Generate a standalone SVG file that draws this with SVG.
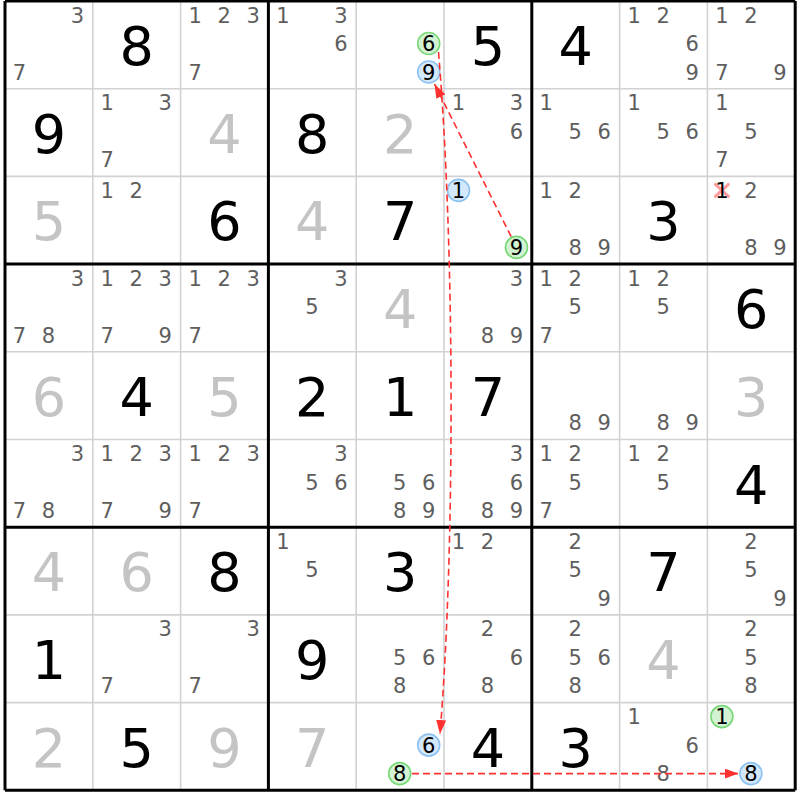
<svg xmlns="http://www.w3.org/2000/svg" width="800" height="800" viewBox="0 0 800 800">
<style>
text{font-family:"DejaVu Sans","Liberation Sans",sans-serif;text-anchor:middle}
.c{font-size:21px;fill:#5e5e5e}
.b{font-size:54px;fill:#000}
.s{font-size:54px;fill:#c4c4c4}
.k{font-size:21px;fill:#000}
.gc{fill:#d2f2d2;stroke:#78d878;stroke-width:1.6}
.bc{fill:#d4e8fb;stroke:#8cc2f2;stroke-width:1.6}
.thin{stroke:#d2d2d2;stroke-width:1.6}
.thick{stroke:#000;stroke-width:3}
.lnk{fill:none;stroke:#ff3030;stroke-width:1.6;stroke-dasharray:7,4}
</style>
<defs>
<marker id="ah" viewBox="0 0 14 10" refX="14" refY="5" markerWidth="14" markerHeight="10" markerUnits="userSpaceOnUse" orient="auto">
<path d="M0,0 L14,5 L0,10 z" fill="#ff3030"/>
</marker>
</defs>
<rect x="0" y="0" width="800" height="800" fill="#fff"/>
<g id="grid">
<path class="thin" d="M92.8,1V790.3M180.6,1V790.3M356.2,1V790.3M444,1V790.3M619.6,1V790.3M707.4,1V790.3M5,88.7H795.2M5,176.4H795.2M5,351.8H795.2M5,439.5H795.2M5,614.9H795.2M5,702.6H795.2"/>
<path class="thick" d="M5,1V790.3M268.4,1V790.3M531.8,1V790.3M795.2,1V790.3M5,1H795.2M5,264.1H795.2M5,527.2H795.2M5,790.3H795.2"/>
</g>
<!-- Row 0 -->
<g id="r0c0" transform="translate(5,1)"><text class="c" x="72.5" y="21.6">3</text><text class="c" x="14.5" y="78.6">7</text></g>
<g id="r0c1" transform="translate(92.8,1)"><text class="b" x="43.9" y="64">8</text></g>
<g id="r0c2" transform="translate(180.6,1)"><text class="c" x="14.5" y="21.6">1</text><text class="c" x="43.5" y="21.6">2</text><text class="c" x="72.5" y="21.6">3</text><text class="c" x="14.5" y="78.6">7</text></g>
<g id="r0c3" transform="translate(268.4,1)"><text class="c" x="14.5" y="21.6">1</text><text class="c" x="72.5" y="21.6">3</text><text class="c" x="72.5" y="50.1">6</text></g>
<g id="r0c4" transform="translate(356.2,1)"><circle class="gc" cx="72.5" cy="42.5" r="11"/><text class="k" x="72.5" y="50.1">6</text><circle class="bc" cx="72.5" cy="71" r="11"/><text class="k" x="72.5" y="78.6">9</text></g>
<g id="r0c5" transform="translate(444,1)"><text class="b" x="43.9" y="64">5</text></g>
<g id="r0c6" transform="translate(531.8,1)"><text class="b" x="43.9" y="64">4</text></g>
<g id="r0c7" transform="translate(619.6,1)"><text class="c" x="14.5" y="21.6">1</text><text class="c" x="43.5" y="21.6">2</text><text class="c" x="72.5" y="50.1">6</text><text class="c" x="72.5" y="78.6">9</text></g>
<g id="r0c8" transform="translate(707.4,1)"><text class="c" x="14.5" y="21.6">1</text><text class="c" x="43.5" y="21.6">2</text><text class="c" x="14.5" y="78.6">7</text><text class="c" x="72.5" y="78.6">9</text></g>
<!-- Row 1 -->
<g id="r1c0" transform="translate(5,88.7)"><text class="b" x="43.9" y="64">9</text></g>
<g id="r1c1" transform="translate(92.8,88.7)"><text class="c" x="14.5" y="21.6">1</text><text class="c" x="72.5" y="21.6">3</text><text class="c" x="14.5" y="78.6">7</text></g>
<g id="r1c2" transform="translate(180.6,88.7)"><text class="s" x="43.9" y="64">4</text></g>
<g id="r1c3" transform="translate(268.4,88.7)"><text class="b" x="43.9" y="64">8</text></g>
<g id="r1c4" transform="translate(356.2,88.7)"><text class="s" x="43.9" y="64">2</text></g>
<g id="r1c5" transform="translate(444,88.7)"><text class="c" x="14.5" y="21.6">1</text><text class="c" x="72.5" y="21.6">3</text><text class="c" x="72.5" y="50.1">6</text></g>
<g id="r1c6" transform="translate(531.8,88.7)"><text class="c" x="14.5" y="21.6">1</text><text class="c" x="43.5" y="50.1">5</text><text class="c" x="72.5" y="50.1">6</text></g>
<g id="r1c7" transform="translate(619.6,88.7)"><text class="c" x="14.5" y="21.6">1</text><text class="c" x="43.5" y="50.1">5</text><text class="c" x="72.5" y="50.1">6</text></g>
<g id="r1c8" transform="translate(707.4,88.7)"><text class="c" x="14.5" y="21.6">1</text><text class="c" x="43.5" y="50.1">5</text><text class="c" x="14.5" y="78.6">7</text></g>
<!-- Row 2 -->
<g id="r2c0" transform="translate(5,176.4)"><text class="s" x="43.9" y="64">5</text></g>
<g id="r2c1" transform="translate(92.8,176.4)"><text class="c" x="14.5" y="21.6">1</text><text class="c" x="43.5" y="21.6">2</text></g>
<g id="r2c2" transform="translate(180.6,176.4)"><text class="b" x="43.9" y="64">6</text></g>
<g id="r2c3" transform="translate(268.4,176.4)"><text class="s" x="43.9" y="64">4</text></g>
<g id="r2c4" transform="translate(356.2,176.4)"><text class="b" x="43.9" y="64">7</text></g>
<g id="r2c5" transform="translate(444,176.4)"><circle class="bc" cx="14.5" cy="14" r="11"/><text class="k" x="14.5" y="21.6">1</text><circle class="gc" cx="72.5" cy="71" r="11"/><text class="k" x="72.5" y="78.6">9</text></g>
<g id="r2c6" transform="translate(531.8,176.4)"><text class="c" x="14.5" y="21.6">1</text><text class="c" x="43.5" y="21.6">2</text><text class="c" x="43.5" y="78.6">8</text><text class="c" x="72.5" y="78.6">9</text></g>
<g id="r2c7" transform="translate(619.6,176.4)"><text class="b" x="43.9" y="64">3</text></g>
<g id="r2c8" transform="translate(707.4,176.4)"><path d="M8,8L21,20M21,8L8,20" stroke="#ff8c8c" stroke-width="3" stroke-linecap="round" opacity="0.85"/><text class="k" x="14.5" y="21.6">1</text><text class="c" x="43.5" y="21.6">2</text><text class="c" x="43.5" y="78.6">8</text><text class="c" x="72.5" y="78.6">9</text></g>
<!-- Row 3 -->
<g id="r3c0" transform="translate(5,264.1)"><text class="c" x="72.5" y="21.6">3</text><text class="c" x="14.5" y="78.6">7</text><text class="c" x="43.5" y="78.6">8</text></g>
<g id="r3c1" transform="translate(92.8,264.1)"><text class="c" x="14.5" y="21.6">1</text><text class="c" x="43.5" y="21.6">2</text><text class="c" x="72.5" y="21.6">3</text><text class="c" x="14.5" y="78.6">7</text><text class="c" x="72.5" y="78.6">9</text></g>
<g id="r3c2" transform="translate(180.6,264.1)"><text class="c" x="14.5" y="21.6">1</text><text class="c" x="43.5" y="21.6">2</text><text class="c" x="72.5" y="21.6">3</text><text class="c" x="14.5" y="78.6">7</text></g>
<g id="r3c3" transform="translate(268.4,264.1)"><text class="c" x="72.5" y="21.6">3</text><text class="c" x="43.5" y="50.1">5</text></g>
<g id="r3c4" transform="translate(356.2,264.1)"><text class="s" x="43.9" y="64">4</text></g>
<g id="r3c5" transform="translate(444,264.1)"><text class="c" x="72.5" y="21.6">3</text><text class="c" x="43.5" y="78.6">8</text><text class="c" x="72.5" y="78.6">9</text></g>
<g id="r3c6" transform="translate(531.8,264.1)"><text class="c" x="14.5" y="21.6">1</text><text class="c" x="43.5" y="21.6">2</text><text class="c" x="43.5" y="50.1">5</text><text class="c" x="14.5" y="78.6">7</text></g>
<g id="r3c7" transform="translate(619.6,264.1)"><text class="c" x="14.5" y="21.6">1</text><text class="c" x="43.5" y="21.6">2</text><text class="c" x="43.5" y="50.1">5</text></g>
<g id="r3c8" transform="translate(707.4,264.1)"><text class="b" x="43.9" y="64">6</text></g>
<!-- Row 4 -->
<g id="r4c0" transform="translate(5,351.8)"><text class="s" x="43.9" y="64">6</text></g>
<g id="r4c1" transform="translate(92.8,351.8)"><text class="b" x="43.9" y="64">4</text></g>
<g id="r4c2" transform="translate(180.6,351.8)"><text class="s" x="43.9" y="64">5</text></g>
<g id="r4c3" transform="translate(268.4,351.8)"><text class="b" x="43.9" y="64">2</text></g>
<g id="r4c4" transform="translate(356.2,351.8)"><text class="b" x="43.9" y="64">1</text></g>
<g id="r4c5" transform="translate(444,351.8)"><text class="b" x="43.9" y="64">7</text></g>
<g id="r4c6" transform="translate(531.8,351.8)"><text class="c" x="43.5" y="78.6">8</text><text class="c" x="72.5" y="78.6">9</text></g>
<g id="r4c7" transform="translate(619.6,351.8)"><text class="c" x="43.5" y="78.6">8</text><text class="c" x="72.5" y="78.6">9</text></g>
<g id="r4c8" transform="translate(707.4,351.8)"><text class="s" x="43.9" y="64">3</text></g>
<!-- Row 5 -->
<g id="r5c0" transform="translate(5,439.5)"><text class="c" x="72.5" y="21.6">3</text><text class="c" x="14.5" y="78.6">7</text><text class="c" x="43.5" y="78.6">8</text></g>
<g id="r5c1" transform="translate(92.8,439.5)"><text class="c" x="14.5" y="21.6">1</text><text class="c" x="43.5" y="21.6">2</text><text class="c" x="72.5" y="21.6">3</text><text class="c" x="14.5" y="78.6">7</text><text class="c" x="72.5" y="78.6">9</text></g>
<g id="r5c2" transform="translate(180.6,439.5)"><text class="c" x="14.5" y="21.6">1</text><text class="c" x="43.5" y="21.6">2</text><text class="c" x="72.5" y="21.6">3</text><text class="c" x="14.5" y="78.6">7</text></g>
<g id="r5c3" transform="translate(268.4,439.5)"><text class="c" x="72.5" y="21.6">3</text><text class="c" x="43.5" y="50.1">5</text><text class="c" x="72.5" y="50.1">6</text></g>
<g id="r5c4" transform="translate(356.2,439.5)"><text class="c" x="43.5" y="50.1">5</text><text class="c" x="72.5" y="50.1">6</text><text class="c" x="43.5" y="78.6">8</text><text class="c" x="72.5" y="78.6">9</text></g>
<g id="r5c5" transform="translate(444,439.5)"><text class="c" x="72.5" y="21.6">3</text><text class="c" x="72.5" y="50.1">6</text><text class="c" x="43.5" y="78.6">8</text><text class="c" x="72.5" y="78.6">9</text></g>
<g id="r5c6" transform="translate(531.8,439.5)"><text class="c" x="14.5" y="21.6">1</text><text class="c" x="43.5" y="21.6">2</text><text class="c" x="43.5" y="50.1">5</text><text class="c" x="14.5" y="78.6">7</text></g>
<g id="r5c7" transform="translate(619.6,439.5)"><text class="c" x="14.5" y="21.6">1</text><text class="c" x="43.5" y="21.6">2</text><text class="c" x="43.5" y="50.1">5</text></g>
<g id="r5c8" transform="translate(707.4,439.5)"><text class="b" x="43.9" y="64">4</text></g>
<!-- Row 6 -->
<g id="r6c0" transform="translate(5,527.2)"><text class="s" x="43.9" y="64">4</text></g>
<g id="r6c1" transform="translate(92.8,527.2)"><text class="s" x="43.9" y="64">6</text></g>
<g id="r6c2" transform="translate(180.6,527.2)"><text class="b" x="43.9" y="64">8</text></g>
<g id="r6c3" transform="translate(268.4,527.2)"><text class="c" x="14.5" y="21.6">1</text><text class="c" x="43.5" y="50.1">5</text></g>
<g id="r6c4" transform="translate(356.2,527.2)"><text class="b" x="43.9" y="64">3</text></g>
<g id="r6c5" transform="translate(444,527.2)"><text class="c" x="14.5" y="21.6">1</text><text class="c" x="43.5" y="21.6">2</text></g>
<g id="r6c6" transform="translate(531.8,527.2)"><text class="c" x="43.5" y="21.6">2</text><text class="c" x="43.5" y="50.1">5</text><text class="c" x="72.5" y="78.6">9</text></g>
<g id="r6c7" transform="translate(619.6,527.2)"><text class="b" x="43.9" y="64">7</text></g>
<g id="r6c8" transform="translate(707.4,527.2)"><text class="c" x="43.5" y="21.6">2</text><text class="c" x="43.5" y="50.1">5</text><text class="c" x="72.5" y="78.6">9</text></g>
<!-- Row 7 -->
<g id="r7c0" transform="translate(5,614.9)"><text class="b" x="43.9" y="64">1</text></g>
<g id="r7c1" transform="translate(92.8,614.9)"><text class="c" x="72.5" y="21.6">3</text><text class="c" x="14.5" y="78.6">7</text></g>
<g id="r7c2" transform="translate(180.6,614.9)"><text class="c" x="72.5" y="21.6">3</text><text class="c" x="14.5" y="78.6">7</text></g>
<g id="r7c3" transform="translate(268.4,614.9)"><text class="b" x="43.9" y="64">9</text></g>
<g id="r7c4" transform="translate(356.2,614.9)"><text class="c" x="43.5" y="50.1">5</text><text class="c" x="72.5" y="50.1">6</text><text class="c" x="43.5" y="78.6">8</text></g>
<g id="r7c5" transform="translate(444,614.9)"><text class="c" x="43.5" y="21.6">2</text><text class="c" x="72.5" y="50.1">6</text><text class="c" x="43.5" y="78.6">8</text></g>
<g id="r7c6" transform="translate(531.8,614.9)"><text class="c" x="43.5" y="21.6">2</text><text class="c" x="43.5" y="50.1">5</text><text class="c" x="72.5" y="50.1">6</text><text class="c" x="43.5" y="78.6">8</text></g>
<g id="r7c7" transform="translate(619.6,614.9)"><text class="s" x="43.9" y="64">4</text></g>
<g id="r7c8" transform="translate(707.4,614.9)"><text class="c" x="43.5" y="21.6">2</text><text class="c" x="43.5" y="50.1">5</text><text class="c" x="43.5" y="78.6">8</text></g>
<!-- Row 8 -->
<g id="r8c0" transform="translate(5,702.6)"><text class="s" x="43.9" y="64">2</text></g>
<g id="r8c1" transform="translate(92.8,702.6)"><text class="b" x="43.9" y="64">5</text></g>
<g id="r8c2" transform="translate(180.6,702.6)"><text class="s" x="43.9" y="64">9</text></g>
<g id="r8c3" transform="translate(268.4,702.6)"><text class="s" x="43.9" y="64">7</text></g>
<g id="r8c4" transform="translate(356.2,702.6)"><circle class="bc" cx="72.5" cy="42.5" r="11"/><text class="k" x="72.5" y="50.1">6</text><circle class="gc" cx="43.5" cy="71" r="11"/><text class="k" x="43.5" y="78.6">8</text></g>
<g id="r8c5" transform="translate(444,702.6)"><text class="b" x="43.9" y="64">4</text></g>
<g id="r8c6" transform="translate(531.8,702.6)"><text class="b" x="43.9" y="64">3</text></g>
<g id="r8c7" transform="translate(619.6,702.6)"><text class="c" x="14.5" y="21.6">1</text><text class="c" x="72.5" y="50.1">6</text><text class="c" x="43.5" y="78.6">8</text></g>
<g id="r8c8" transform="translate(707.4,702.6)"><circle class="gc" cx="14.5" cy="14" r="11"/><text class="k" x="14.5" y="21.6">1</text><circle class="bc" cx="43.5" cy="71" r="11"/><text class="k" x="43.5" y="78.6">8</text></g>
<g id="connectors">
<path class="lnk" d="M511.2,236.6 L434.5,84" marker-end="url(#ah)"/>
<path class="lnk" d="M438.5,52 C455,250 455,550 440,734" marker-end="url(#ah)"/>
<path class="lnk" d="M412,773.6 L738.5,773.6" marker-end="url(#ah)"/>
</g>
</svg>
